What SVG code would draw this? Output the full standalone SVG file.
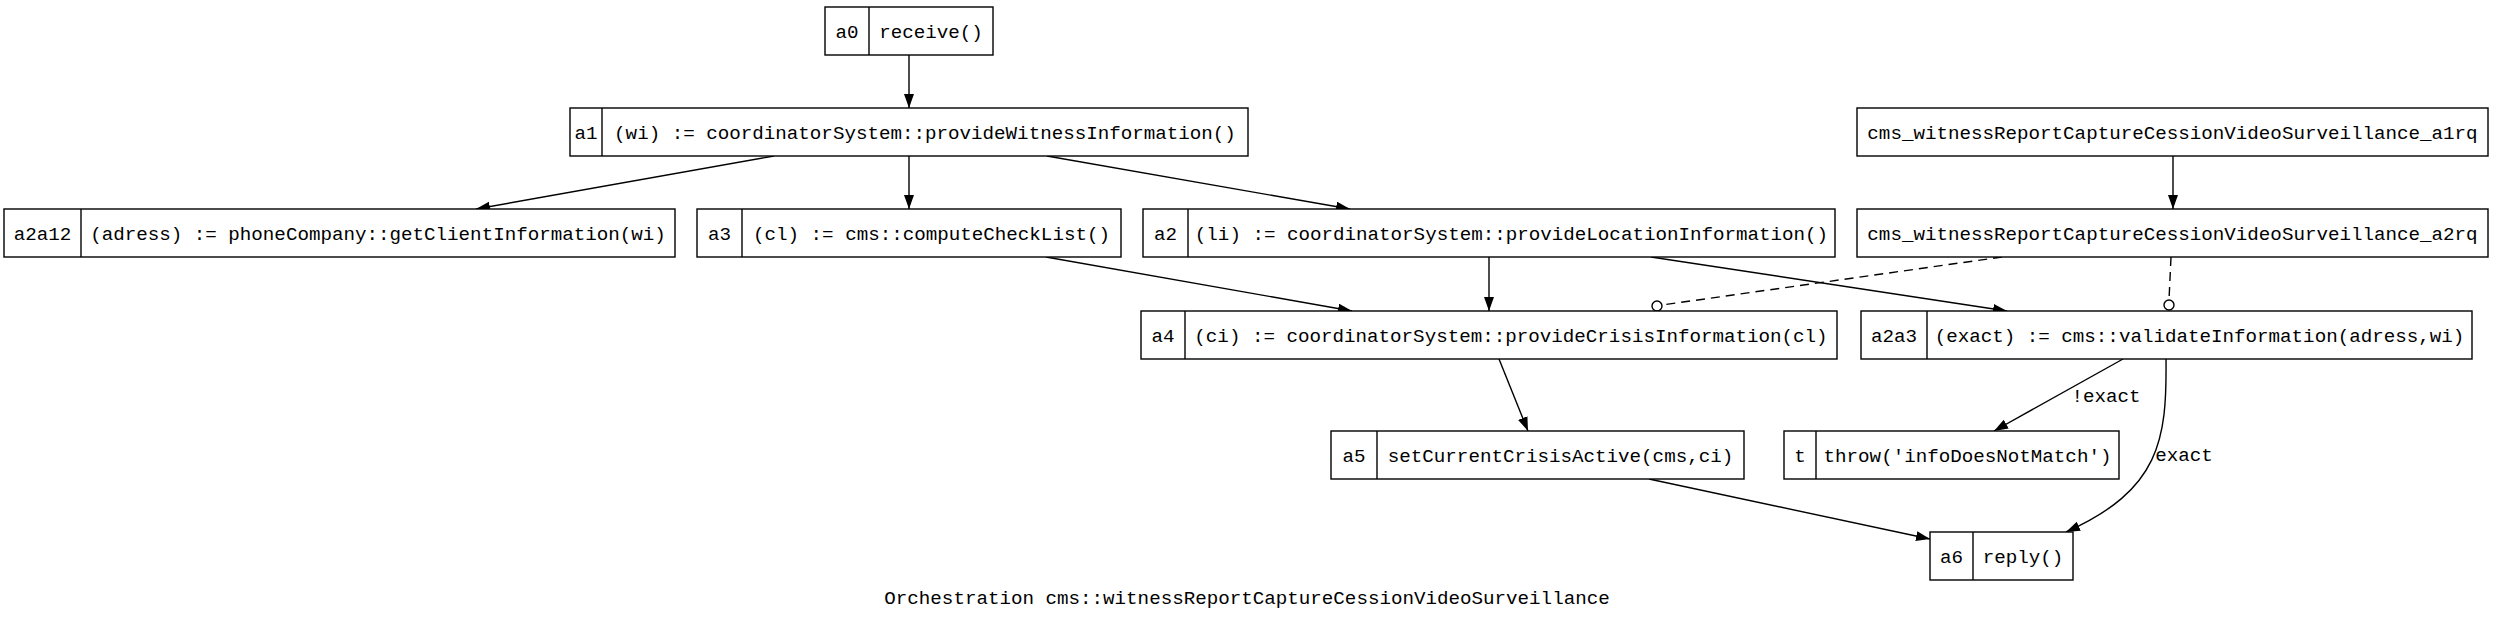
<svg xmlns="http://www.w3.org/2000/svg" width="2493" height="617" viewBox="0 0 2493 617">
<style>
.box{fill:#fff;stroke:#000;stroke-width:1.4}
.div{stroke:#000;stroke-width:1.4}
.t{font-family:"Liberation Mono","Courier New",monospace;font-size:19.2px;fill:#000;text-anchor:middle}
.e{fill:none;stroke:#000;stroke-width:1.4}
.d{fill:none;stroke:#000;stroke-width:1.4;stroke-dasharray:9,6}
.o{fill:#fff;stroke:#000;stroke-width:1.4}
</style>
<defs>
<marker id="ah" markerUnits="userSpaceOnUse" markerWidth="15" markerHeight="11" refX="14" refY="5" orient="auto">
<path d="M0,0 L14,5 L0,10 z" fill="#000"/>
</marker>
</defs>
<rect x="0" y="0" width="2493" height="617" fill="#fff"/>
<g id="connectors">
<line class="e" x1="909" y1="55" x2="909" y2="108" marker-end="url(#ah)"/>
<line class="e" x1="774" y1="156" x2="476" y2="209" marker-end="url(#ah)"/>
<line class="e" x1="909" y1="156" x2="909" y2="209" marker-end="url(#ah)"/>
<line class="e" x1="1047" y1="156" x2="1350" y2="209" marker-end="url(#ah)"/>
<line class="e" x1="1046" y1="257" x2="1352" y2="311" marker-end="url(#ah)"/>
<line class="e" x1="1489" y1="257" x2="1489" y2="311" marker-end="url(#ah)"/>
<line class="e" x1="1651" y1="257" x2="2007" y2="311" marker-end="url(#ah)"/>
<line class="e" x1="2173" y1="156" x2="2173" y2="209" marker-end="url(#ah)"/>
<line class="d" x1="2002" y1="257" x2="1662" y2="305"/>
<circle class="o" cx="1657" cy="306" r="5"/>
<line class="d" x1="2171" y1="257" x2="2169" y2="300"/>
<circle class="o" cx="2169" cy="305" r="5"/>
<line class="e" x1="1499" y1="359" x2="1528" y2="431" marker-end="url(#ah)"/>
<line class="e" x1="1649" y1="479" x2="1930" y2="539" marker-end="url(#ah)"/>
<line class="e" x1="2123" y1="359" x2="1994" y2="431" marker-end="url(#ah)"/>
<path class="e" d="M2166,359 C2167,440 2160,490 2066,532" marker-end="url(#ah)"/>
<text class="t" x="2106" y="402">!exact</text>
<text class="t" x="2184" y="461">exact</text>
</g>
<g id="a0"><rect class="box" x="825" y="7" width="168" height="48"/><line class="div" x1="869" y1="7" x2="869" y2="55"/><text class="t" x="847" y="37.5">a0</text><text class="t" x="931" y="37.5">receive()</text></g>
<g id="a1"><rect class="box" x="570" y="108" width="678" height="48"/><line class="div" x1="602" y1="108" x2="602" y2="156"/><text class="t" x="586" y="138.5">a1</text><text class="t" x="925" y="138.5">(wi) := coordinatorSystem::provideWitnessInformation()</text></g>
<g id="a2a12"><rect class="box" x="4" y="209" width="671" height="48"/><line class="div" x1="81" y1="209" x2="81" y2="257"/><text class="t" x="42.5" y="239.5">a2a12</text><text class="t" x="378" y="239.5">(adress) := phoneCompany::getClientInformation(wi)</text></g>
<g id="a3"><rect class="box" x="697" y="209" width="424" height="48"/><line class="div" x1="742" y1="209" x2="742" y2="257"/><text class="t" x="719.5" y="239.5">a3</text><text class="t" x="931.5" y="239.5">(cl) := cms::computeCheckList()</text></g>
<g id="a2"><rect class="box" x="1143" y="209" width="692" height="48"/><line class="div" x1="1188" y1="209" x2="1188" y2="257"/><text class="t" x="1165.5" y="239.5">a2</text><text class="t" x="1511.5" y="239.5">(li) := coordinatorSystem::provideLocationInformation()</text></g>
<g id="a1rq"><rect class="box" x="1857" y="108" width="631" height="48"/><text class="t" x="2172.5" y="138.5">cms_witnessReportCaptureCessionVideoSurveillance_a1rq</text></g>
<g id="a2rq"><rect class="box" x="1857" y="209" width="631" height="48"/><text class="t" x="2172.5" y="239.5">cms_witnessReportCaptureCessionVideoSurveillance_a2rq</text></g>
<g id="a4"><rect class="box" x="1141" y="311" width="696" height="48"/><line class="div" x1="1185" y1="311" x2="1185" y2="359"/><text class="t" x="1163" y="341.5">a4</text><text class="t" x="1511" y="341.5">(ci) := coordinatorSystem::provideCrisisInformation(cl)</text></g>
<g id="a2a3"><rect class="box" x="1861" y="311" width="611" height="48"/><line class="div" x1="1927" y1="311" x2="1927" y2="359"/><text class="t" x="1894" y="341.5">a2a3</text><text class="t" x="2199.5" y="341.5">(exact) := cms::validateInformation(adress,wi)</text></g>
<g id="a5"><rect class="box" x="1331" y="431" width="413" height="48"/><line class="div" x1="1377" y1="431" x2="1377" y2="479"/><text class="t" x="1354" y="461.5">a5</text><text class="t" x="1560.5" y="461.5">setCurrentCrisisActive(cms,ci)</text></g>
<g id="t"><rect class="box" x="1784" y="431" width="335" height="48"/><line class="div" x1="1816" y1="431" x2="1816" y2="479"/><text class="t" x="1800" y="461.5">t</text><text class="t" x="1967.5" y="461.5">throw('infoDoesNotMatch')</text></g>
<g id="a6"><rect class="box" x="1930" y="532" width="143" height="48"/><line class="div" x1="1973" y1="532" x2="1973" y2="580"/><text class="t" x="1951.5" y="562.5">a6</text><text class="t" x="2023" y="562.5">reply()</text></g>
<g id="title"><text class="t" x="1247" y="604">Orchestration cms::witnessReportCaptureCessionVideoSurveillance</text></g>
</svg>
